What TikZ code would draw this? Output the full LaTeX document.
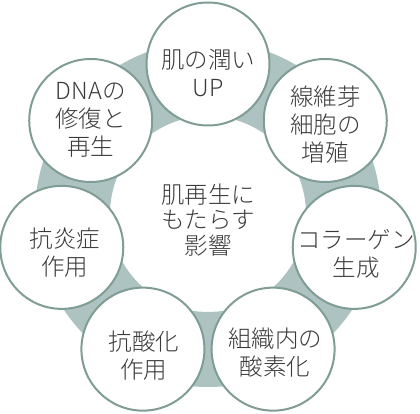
\documentclass[tikz,border=0pt]{standalone}
\usepackage{fontspec}
\setmainfont{Noto Sans CJK JP Light}
\definecolor{ringc}{HTML}{ADC3C2}
\definecolor{bordc}{HTML}{7E9E94}
\definecolor{txtc}{HTML}{3A3A3A}
\begin{document}
\begin{tikzpicture}[x=1pt,y=-1pt,
  bubble/.style={circle, draw=bordc, line width=2pt, fill=white, minimum size=123pt, inner sep=0pt},
  lbl/.style={text=txtc, font=\fontsize{23.5}{28}\selectfont, align=center, inner sep=0pt}]
\useasboundingbox (0,0) rectangle (420,414);
\coordinate (c) at (208,214);
\fill[ringc, even odd rule] (c) circle[radius=173] (c) circle[radius=98];
\path (c) ++(-90:150) node[bubble] (b0) {};
\path (c) ++(-38.571:150) node[bubble] (b1) {};
\path (c) ++(12.857:150) node[bubble] (b2) {};
\path (c) ++(64.286:150) node[bubble] (b3) {};
\path (c) ++(115.714:150) node[bubble] (b4) {};
\path (c) ++(167.143:150) node[bubble] (b5) {};
\path (c) ++(218.571:150) node[bubble] (b6) {};
\node[lbl] (t0) at ([yshift=-9pt]b0.center) {肌の潤い\\UP};
\node[lbl] (t1) at ([yshift=-4pt]b1.center) {線維芽\\細胞の\\増殖};
\node[lbl] (t2) at ([xshift=2pt,yshift=-6pt]b2.center) {コラーゲン\\生成};
\node[lbl] (t3) at ([xshift=2pt,yshift=-3pt]b3.center) {組織内の\\酸素化};
\node[lbl] (t4) at ([xshift=1pt,yshift=-6pt]b4.center) {抗酸化\\作用};
\node[lbl] (t5) at ([xshift=3pt,yshift=-5pt]b5.center) {抗炎症\\作用};
\node[lbl] (t6) at ([yshift=1pt]b6.center) {DNAの\\修復と\\再生};
\node[lbl, font=\fontsize{23.5}{25.5}\selectfont] (ctr) at ([yshift=-6pt]c) {肌再生に\\もたらす\\影響};
\end{tikzpicture}
\end{document}
